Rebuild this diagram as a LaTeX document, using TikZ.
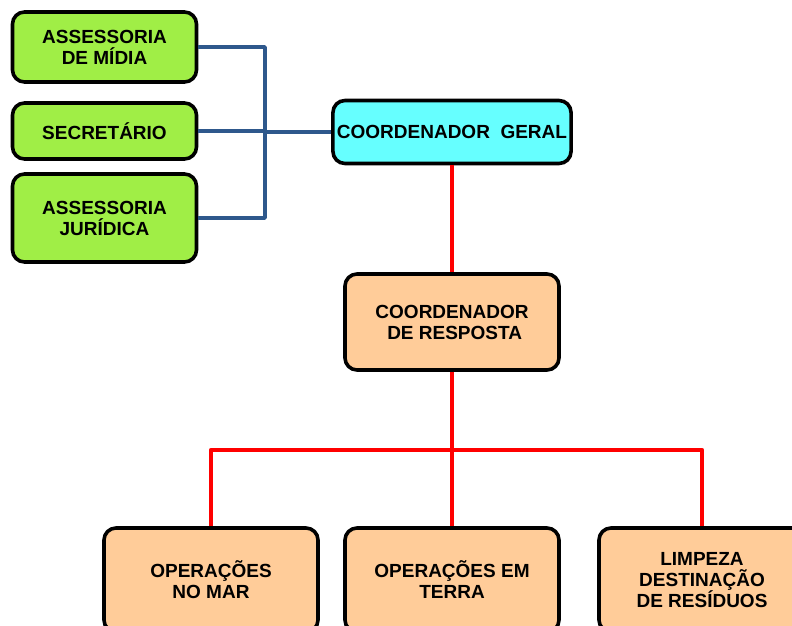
\documentclass[tikz,border=0pt]{standalone}
\usepackage{fontspec}
\setmainfont{Liberation Sans}
\definecolor{verde}{RGB}{160,238,70}
\definecolor{ciano}{RGB}{102,255,255}
\definecolor{pessego}{RGB}{255,204,153}
\definecolor{azul}{RGB}{46,88,140}
\begin{document}
\begin{tikzpicture}[x=0.5pt,y=-0.5pt,line join=round]
	\tikzstyle{caixa}=[draw=black,line width=1.8pt,rounded corners=6pt,align=center,inner sep=2pt,font=\fontsize{9.5}{10.5}\selectfont\bfseries];
	\tikzstyle{apoio}=[caixa,fill=verde,minimum width=92pt];
	\tikzstyle{resp}=[caixa,fill=pessego];
	\tikzstyle{ligaA}=[azul,line width=1.8pt];
	\tikzstyle{ligaV}=[red,line width=2.2pt];
	\clip (0,0) rectangle (792,626);
	%% apoio
	\node[apoio,minimum height=35pt] (am)  at (104.5,47)  {ASSESSORIA\\DE MÍDIA};
	\node[apoio,minimum height=28pt] (sec) at (104.5,131) {SECRETÁRIO};
	\node[apoio,minimum height=44pt] (aj)  at (104.5,218) {ASSESSORIA\\JURÍDICA};
	%% coordenacao
	\node[caixa,fill=ciano,minimum width=119pt,minimum height=31.5pt] (cg) at (452,132) {COORDENADOR~~GERAL};
	\node[resp,minimum width=107pt,minimum height=48pt] (cr) at (452,322) {COORDENADOR\\~DE RESPOSTA};
	%% operacoes
	\node[resp,minimum width=107pt,minimum height=52pt] (om) at (211,580) {OPERAÇÕES\\NO MAR};
	\node[resp,minimum width=107pt,minimum height=52pt] (ot) at (452,580) {OPERAÇÕES EM\\TERRA};
	\node[resp,minimum width=103pt,minimum height=52pt] (ld) at (702,580) {LIMPEZA\\DESTINAÇÃO\\DE RESÍDUOS};
	%% ligacoes
	\coordinate (bus) at (265,132);
	\coordinate (div) at (452,450);
	\draw[ligaA] (am.east) -| (bus);
	\draw[ligaA] (aj.east) -| (bus);
	\draw[ligaA] (sec.east) -- (sec.east -| bus);
	\draw[ligaA] (bus) -- (cg.west);
	\draw[ligaV] (cg.south) -- (cr.north);
	\draw[ligaV] (cr.south) -- (div);
	\draw[ligaV] (div) -| (om.north);
	\draw[ligaV] (div) -| (ld.north);
	\draw[ligaV] (div) -- (ot.north);
\end{tikzpicture}
\end{document}
